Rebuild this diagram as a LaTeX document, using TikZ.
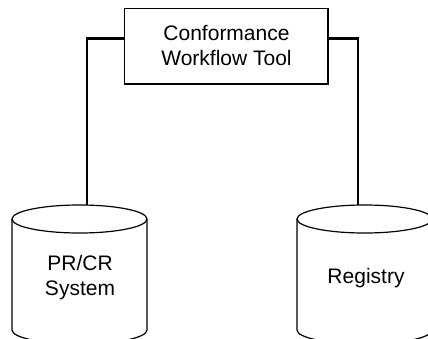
\documentclass[tikz,border=0pt]{standalone}
\usepackage{fontspec}
\setmainfont{Liberation Sans}
\begin{document}
\begin{tikzpicture}[x=1pt,y=1pt,
  thinline/.style={line width=1.2pt,black},
  link/.style={line width=2.6pt,black},
  lbl/.style={align=center,font=\fontsize{21}{25}\selectfont,inner sep=0pt}]
\useasboundingbox (0,0) rectangle (428,338);
\fill[white] (0,0) rectangle (428,338);
\begin{scope}
\clip (0,0) rectangle (428,338);
% box
\node[draw,thinline,minimum width=203.5pt,minimum height=75.5pt,inner sep=0pt] (box) at (226.25,291.75) {};
\node[lbl] (boxtxt) at (226.5,292) {Conformance\\Workflow Tool};
% cylinders
\coordinate (ltop) at (87,133);
\coordinate (rtop) at (358,133);
\draw[thinline,fill=white] (12,8) -- (12,119) arc (180:0:67.5 and 14) -- (147,8) arc (0:-180:67.5 and 14) -- cycle;
\draw[thinline] (12,119) arc (180:360:67.5 and 14);
\draw[thinline,fill=white] (297,8) -- (297,119) arc (180:0:67.5 and 14) -- (432,8) arc (0:-180:67.5 and 14) -- cycle;
\draw[thinline] (297,119) arc (180:360:67.5 and 14);
\node[lbl] (prcr) at (80,60) {PR/CR\\System};
\node[lbl] (reg) at (366,60) {Registry};
% connectors
\draw[link] ([yshift=7.75pt]box.west) -| (ltop);
\draw[link] ([yshift=7.75pt]box.east) -| (rtop);
\end{scope}
\end{tikzpicture}
\end{document}
